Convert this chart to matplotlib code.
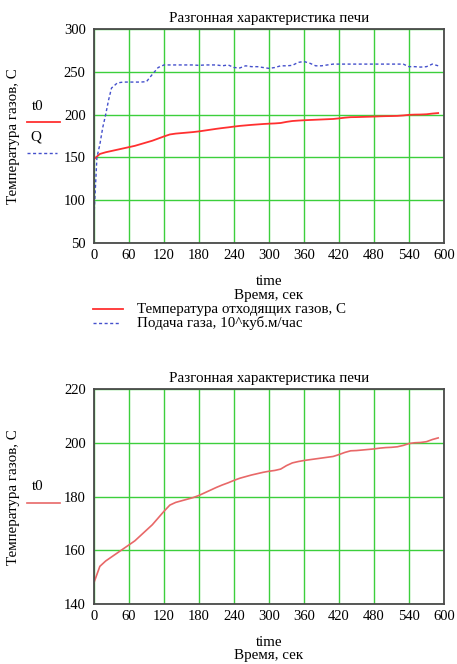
import matplotlib
matplotlib.use("Agg")
import matplotlib.pyplot as plt
from matplotlib.lines import Line2D

# Flue gas temperature t0, deg C
time_t0 = [0, 5, 10, 20, 30, 40, 50, 60, 70, 80, 90, 100, 110, 120, 130, 140,
           150, 160, 170, 180, 190, 200, 210, 220, 230, 240, 250, 260, 270, 280,
           290, 300, 310, 320, 330, 340, 350, 360, 370, 380, 390, 400, 410, 420,
           430, 440, 450, 460, 470, 480, 490, 500, 510, 520, 530, 540, 550, 560,
           570, 580, 590]
t0 = [148, 151, 154, 156, 157.5, 159, 160.5, 162, 163.5, 165.5, 167.5, 169.5,
      172, 174.5, 176.8, 177.8, 178.4, 179, 179.6, 180.4, 181.4, 182.4, 183.4,
      184.3, 185.1, 186, 186.8, 187.4, 188, 188.5, 189, 189.4, 189.7, 190.2,
      191.5, 192.5, 193, 193.4, 193.7, 194, 194.3, 194.6, 194.9, 195.6, 196.4,
      197, 197.1, 197.3, 197.5, 197.7, 198, 198.2, 198.3, 198.5, 199, 199.7,
      200, 200.1, 200.4, 201.2, 201.8]

# Gas feed Q
time_q = [0, 5, 10, 15, 20, 25, 30, 40, 50, 60, 70, 80, 90, 100, 110, 120, 130,
          140, 150, 160, 170, 180, 190, 200, 210, 220, 230, 240, 250, 260, 270,
          280, 290, 300, 310, 320, 330, 340, 350, 360, 370, 380, 390, 400, 410,
          420, 430, 440, 450, 460, 470, 480, 490, 500, 510, 520, 530, 540, 550,
          560, 570, 580, 590]
q = [82, 150, 165, 185, 200, 217, 231, 237, 238, 238, 238, 238, 238.5, 247,
     255, 258, 258, 258, 258, 258, 258, 257.5, 258, 258, 258, 257, 258, 255,
     254.5, 257, 256, 256, 255, 254, 255, 257, 257, 257.5, 261, 262, 260, 257,
     257, 258, 259, 259, 259, 259, 259, 259, 259, 259, 259, 259, 259, 259, 259,
     256, 256, 255.5, 256, 259, 257]

x_ticks = [0, 60, 120, 180, 240, 300, 360, 420, 480, 540, 600]
y_ticks_top = [50, 100, 150, 200, 250, 300]
y_ticks_bottom = [140, 160, 180, 200, 220]

title_text = "Разгонная характеристика печи"
ylabel_text = "Температура газов, С"
xname_text = "time"
xlabel_text = "Время, сек"
legend_t0 = "Температура отходящих газов, С"
legend_q = "Подача газа, 10^куб.м/час"

plt.rcParams["font.family"] = ["Liberation Serif", "DejaVu Serif"]
FS_TICK = 10.5
FS_TEXT = 10.8

W, H = 457, 664
fig = plt.figure(figsize=(W / 100, H / 100), dpi=100)
fig.patch.set_facecolor("white")

RED = "#ff3030"
RED2 = "#e86868"
BLUE = "#4450cc"
GRID = "#3ccf3c"
DASH = (0, (2.2, 1.8))


def px_box(x0, y0, x1, y1):
    return [x0 / W, 1 - y1 / H, (x1 - x0) / W, (y1 - y0) / H]


def style_axes(ax, yticks):
    ax.set_xlim(0, 600)
    ax.set_ylim(yticks[0], yticks[-1])
    ax.set_xticks(x_ticks)
    ax.set_yticks(yticks)
    ax.tick_params(length=0, labelsize=FS_TICK, pad=6)
    ax.tick_params(axis="x", pad=4)
    ax.grid(True, color=GRID, linewidth=1.0)
    ax.set_axisbelow(True)
    for s in ax.spines.values():
        s.set_color("#4a4a4a")
        s.set_linewidth(1.3)
    ax.set_title(title_text, fontsize=FS_TEXT, pad=5)


def fig_line(x0, x1, y, **kw):
    fig.add_artist(Line2D([x0 / W, x1 / W], [1 - y / H, 1 - y / H],
                          transform=fig.transFigure, **kw))


def fig_text(x, y, s, **kw):
    fig.text(x / W, 1 - y / H, s, fontsize=kw.pop("fontsize", FS_TEXT), **kw)


# Top chart: temperature and gas feed
ax1 = fig.add_axes(px_box(94, 29, 444, 243))
ax1.plot(time_t0, t0, color=RED, linewidth=1.3)
ax1.plot(time_q, q, color=BLUE, linewidth=1.0, linestyle=DASH)
style_axes(ax1, y_ticks_top)

fig_text(14, 136, ylabel_text, rotation=90, ha="center", va="center")
fig_text(38, 106, "t0", ha="center", va="center")
fig_line(27, 60, 122, color=RED, linewidth=1.3)
fig_text(36, 137, "Q", ha="center", va="center")
fig_line(27, 57, 153, color=BLUE, linewidth=1.0, linestyle=DASH)

fig_text(269, 282, xname_text, ha="center", va="center")
fig_text(269, 295, xlabel_text, ha="center", va="center")
fig_line(93, 123, 309, color=RED, linewidth=1.3)
fig_text(137, 309, legend_t0, ha="left", va="center")
fig_line(93, 120, 323, color=BLUE, linewidth=1.0, linestyle=DASH)
fig_text(137, 323, legend_q, ha="left", va="center")

# Bottom chart: temperature only
ax2 = fig.add_axes(px_box(94, 389, 444, 604))
ax2.plot(time_t0, t0, color=RED2, linewidth=1.2)
style_axes(ax2, y_ticks_bottom)

fig_text(14, 497, ylabel_text, rotation=90, ha="center", va="center")
fig_text(38, 487, "t0", ha="center", va="center")
fig_line(27, 60, 503, color=RED2, linewidth=1.2)

fig_text(269, 642, xname_text, ha="center", va="center")
fig_text(269, 655, xlabel_text, ha="center", va="center")

fig.savefig("out.png", dpi=100, facecolor="white")
